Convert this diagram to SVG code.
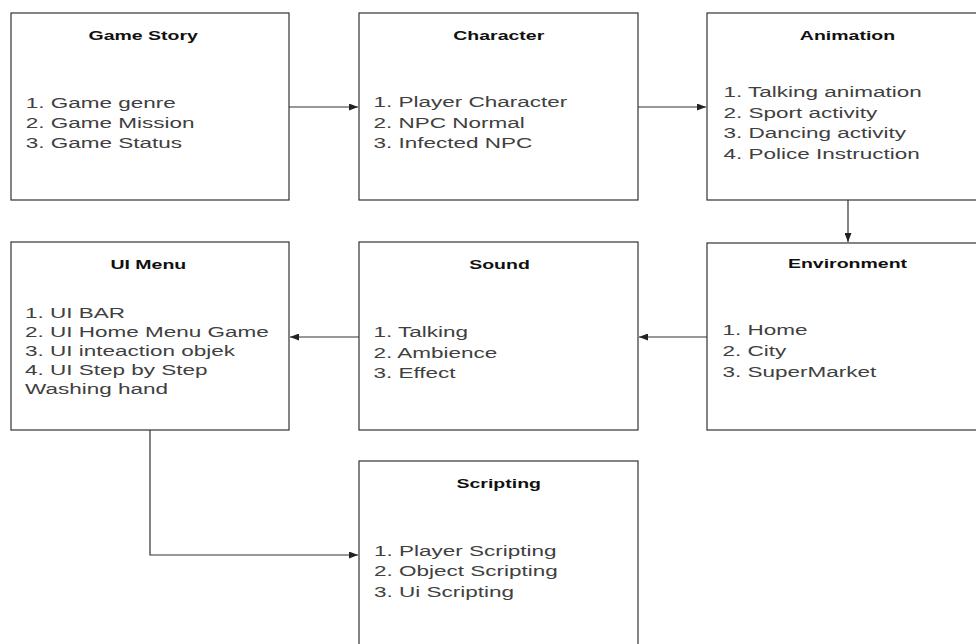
<svg xmlns="http://www.w3.org/2000/svg" width="976" height="644" viewBox="0 0 976 644">
<style>
.box{fill:#fff;stroke:#333;stroke-width:1.2}
.t{font-family:"Liberation Sans",Arial,sans-serif;font-size:13px;font-weight:bold;fill:#111;text-anchor:middle}
.i{font-family:"Liberation Sans",Arial,sans-serif;font-size:15px;fill:#404040}
.c{fill:none;stroke:#333;stroke-width:1.2}
</style>
<defs>
<marker id="ah" viewBox="0 0 9 7" refX="9" refY="3.5" markerWidth="9" markerHeight="7" markerUnits="userSpaceOnUse" orient="auto">
<path d="M0,0 L9,3.5 L0,7 z" fill="#222"/>
</marker>
</defs>
<rect width="976" height="644" fill="#fff"/>
<g id="connectors">
<path class="c" d="M289,107 H358" marker-end="url(#ah)"/>
<path class="c" d="M638,107 H706" marker-end="url(#ah)"/>
<path class="c" d="M848,200 V242" marker-end="url(#ah)"/>
<path class="c" d="M707,337 H639" marker-end="url(#ah)"/>
<path class="c" d="M359,337 H290" marker-end="url(#ah)"/>
<path class="c" d="M150,430 V555 H358" marker-end="url(#ah)"/>
</g>
<g id="game-story">
<rect class="box" x="11" y="13" width="278" height="187"/>
<g transform="scale(1.5 1)">
<text class="t" x="95.5" y="40">Game Story</text>
<text class="i" x="17.2" y="108">1. Game genre</text>
<text class="i" x="17.2" y="128">2. Game Mission</text>
<text class="i" x="17.2" y="148">3. Game Status</text>
</g>
</g>
<g id="character">
<rect class="box" x="359" y="13" width="279" height="187"/>
<g transform="scale(1.5 1)">
<text class="t" x="332.5" y="40">Character</text>
<text class="i" x="249" y="107.5">1. Player Character</text>
<text class="i" x="249" y="128">2. NPC Normal</text>
<text class="i" x="249" y="148.5">3. Infected NPC</text>
</g>
</g>
<g id="animation">
<rect class="box" x="707" y="13" width="282" height="187"/>
<g transform="scale(1.5 1)">
<text class="t" x="565" y="40">Animation</text>
<text class="i" x="482.3" y="97">1. Talking animation</text>
<text class="i" x="482.3" y="117.7">2. Sport activity</text>
<text class="i" x="482.3" y="138.4">3. Dancing activity</text>
<text class="i" x="482.3" y="159">4. Police Instruction</text>
</g>
</g>
<g id="environment">
<rect class="box" x="707" y="243" width="282" height="187"/>
<g transform="scale(1.5 1)">
<text class="t" x="565" y="268.5">Environment</text>
<text class="i" x="481.7" y="335">1. Home</text>
<text class="i" x="481.7" y="356">2. City</text>
<text class="i" x="481.7" y="377">3. SuperMarket</text>
</g>
</g>
<g id="sound">
<rect class="box" x="359" y="242" width="279" height="188"/>
<g transform="scale(1.5 1)">
<text class="t" x="333" y="269">Sound</text>
<text class="i" x="249" y="337.3">1. Talking</text>
<text class="i" x="249" y="357.8">2. Ambience</text>
<text class="i" x="249" y="378.3">3. Effect</text>
</g>
</g>
<g id="ui-menu">
<rect class="box" x="11" y="242" width="278" height="188"/>
<g transform="scale(1.5 1)">
<text class="t" x="98.9" y="269">UI Menu</text>
<text class="i" x="16.7" y="318.5">1. UI BAR</text>
<text class="i" x="16.7" y="337.5">2. UI Home Menu Game</text>
<text class="i" x="16.7" y="356.5">3. UI inteaction objek</text>
<text class="i" x="16.7" y="375.5">4. UI Step by Step</text>
<text class="i" x="16.7" y="394.5">Washing hand</text>
</g>
</g>
<g id="scripting">
<rect class="box" x="359" y="461" width="279" height="195"/>
<g transform="scale(1.5 1)">
<text class="t" x="332.5" y="488.3">Scripting</text>
<text class="i" x="249.3" y="556">1. Player Scripting</text>
<text class="i" x="249.3" y="576.5">2. Object Scripting</text>
<text class="i" x="249.3" y="597">3. Ui Scripting</text>
</g>
</g>
</svg>
